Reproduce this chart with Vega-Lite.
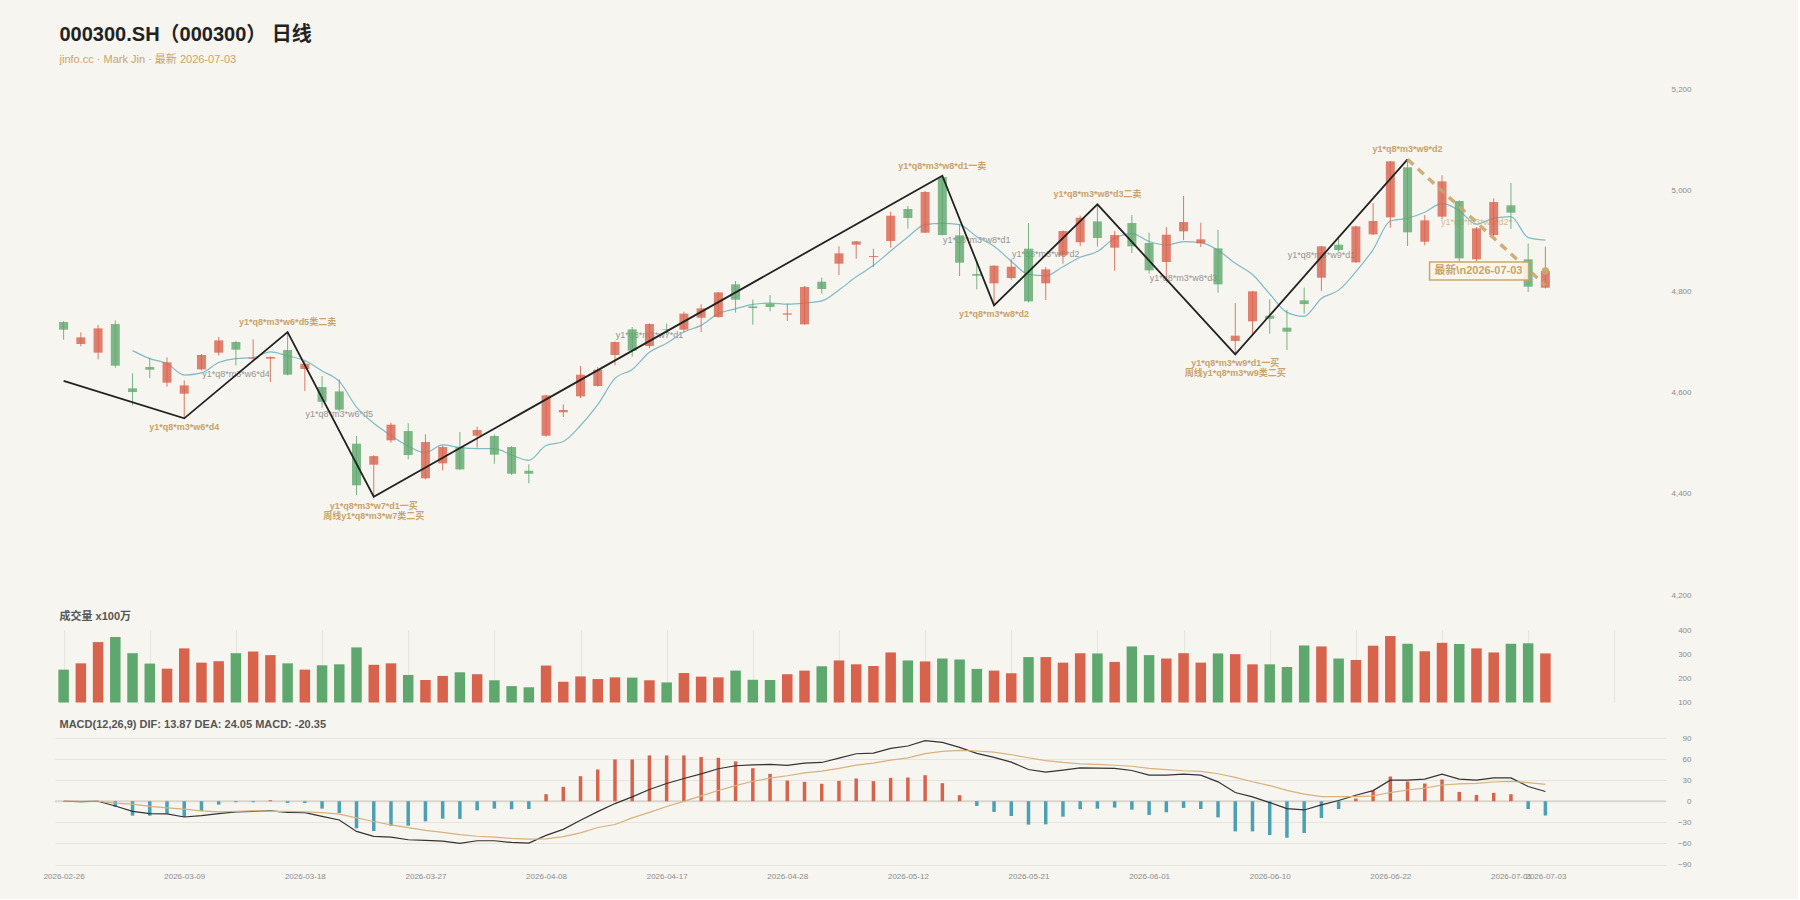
{
"$schema": "https://vega.github.io/schema/vega-lite/v6.json",
"background": "#f7f5f0",
"padding": {"left": 43, "top": 25, "right": 107, "bottom": 18},
"title": {"text": "000300.SH（000300） 日线", "subtitle": "jinfo.cc · Mark Jin · 最新 2026-07-03", "anchor": "start", "frame": "group", "dx": 4.5, "fontSize": 20, "fontWeight": "bold", "color": "#222222", "subtitleColor": "#c9a46a", "subtitleFontSize": 11, "subtitlePadding": 9, "offset": 20},
"datasets": {
"k": [
{"i":0,"d":"2026-02-26","o":4739.5,"h":4741.4,"l":4704.6,"c":4724.3,"v":236,"ma":null,"dif":0,"dea":0,"hist":0},
{"i":1,"d":"2026-02-27","o":4696.0,"h":4719.1,"l":4691.4,"c":4709.2,"v":262,"ma":null,"dif":-0.5,"dea":0,"hist":-1},
{"i":2,"d":"2026-03-02","o":4678.9,"h":4733.5,"l":4665.7,"c":4727.0,"v":350,"ma":null,"dif":0,"dea":0,"hist":0},
{"i":3,"d":"2026-03-03","o":4735.5,"h":4742.8,"l":4649.2,"c":4653.2,"v":371,"ma":null,"dif":-6.7,"dea":-2.7,"hist":-8},
{"i":4,"d":"2026-03-04","o":4608.4,"h":4638.0,"l":4574.8,"c":4601.1,"v":304,"ma":4683.0,"dif":-14.3,"dea":-4.1,"hist":-20.5},
{"i":5,"d":"2026-03-05","o":4650.5,"h":4669.0,"l":4628.8,"c":4645.3,"v":261,"ma":4667.2,"dif":-17.6,"dea":-7.4,"hist":-20.5},
{"i":6,"d":"2026-03-06","o":4619.6,"h":4669.6,"l":4611.7,"c":4659.8,"v":240,"ma":4657.3,"dif":-18.1,"dea":-9.3,"hist":-17.6},
{"i":7,"d":"2026-03-09","o":4597.8,"h":4624.2,"l":4549.1,"c":4614.3,"v":324,"ma":4634.7,"dif":-22.4,"dea":-11.2,"hist":-22.4},
{"i":8,"d":"2026-03-10","o":4645.9,"h":4676.2,"l":4643.9,"c":4674.3,"v":265,"ma":4639.0,"dif":-20.5,"dea":-13.6,"hist":-13.8},
{"i":9,"d":"2026-03-11","o":4678.9,"h":4709.8,"l":4673.6,"c":4703.2,"v":271,"ma":4659.4,"dif":-17.6,"dea":-15.2,"hist":-4.8},
{"i":10,"d":"2026-03-12","o":4700.0,"h":4702.0,"l":4653.8,"c":4684.8,"v":304,"ma":4667.3,"dif":-15.2,"dea":-14.5,"hist":-1.4},
{"i":11,"d":"2026-03-13","o":4667.0,"h":4705.2,"l":4662.4,"c":4669.0,"v":311,"ma":4669.1,"dif":-14.3,"dea":-13.6,"hist":-1.4},
{"i":12,"d":"2026-03-16","o":4667.0,"h":4671.6,"l":4620.9,"c":4670.3,"v":296,"ma":4680.3,"dif":-13.8,"dea":-14.5,"hist":1.4},
{"i":13,"d":"2026-03-17","o":4684.1,"h":4719.7,"l":4634.1,"c":4635.4,"v":262,"ma":4672.5,"dif":-15.7,"dea":-14.5,"hist":-2.4},
{"i":14,"d":"2026-03-18","o":4646.6,"h":4662.4,"l":4603.1,"c":4657.1,"v":236,"ma":4663.3,"dif":-16.2,"dea":-15.0,"hist":-2.4},
{"i":15,"d":"2026-03-19","o":4611.0,"h":4632.7,"l":4570.2,"c":4582.0,"v":254,"ma":4642.8,"dif":-21.4,"dea":-16.2,"hist":-10.5},
{"i":16,"d":"2026-03-20","o":4602.4,"h":4626.2,"l":4562.3,"c":4566.2,"v":258,"ma":4622.2,"dif":-26.7,"dea":-18.4,"hist":-16.7},
{"i":17,"d":"2026-03-23","o":4499.0,"h":4514.2,"l":4397.6,"c":4416.7,"v":328,"ma":4571.5,"dif":-42.9,"dea":-23.6,"hist":-38.6},
{"i":18,"d":"2026-03-24","o":4457.5,"h":4476.0,"l":4394.3,"c":4474.6,"v":256,"ma":4539.3,"dif":-50.0,"dea":-28.8,"hist":-42.4},
{"i":19,"d":"2026-03-25","o":4505.6,"h":4540.5,"l":4501.0,"c":4536.6,"v":262,"ma":4515.2,"dif":-51.0,"dea":-33.6,"hist":-34.8},
{"i":20,"d":"2026-03-26","o":4524.0,"h":4539.2,"l":4468.1,"c":4476.6,"v":214,"ma":4494.1,"dif":-54.8,"dea":-37.4,"hist":-34.8},
{"i":21,"d":"2026-03-27","o":4430.5,"h":4517.5,"l":4428.5,"c":4502.3,"v":193,"ma":4481.4,"dif":-55.7,"dea":-41.4,"hist":-28.6},
{"i":22,"d":"2026-03-30","o":4460.1,"h":4495.7,"l":4446.3,"c":4492.4,"v":210,"ma":4496.5,"dif":-56.7,"dea":-44.3,"hist":-24.8},
{"i":23,"d":"2026-03-31","o":4492.4,"h":4522.1,"l":4447.0,"c":4448.3,"v":225,"ma":4491.2,"dif":-60.0,"dea":-47.4,"hist":-25.2},
{"i":24,"d":"2026-04-01","o":4514.8,"h":4532.6,"l":4491.1,"c":4526.0,"v":217,"ma":4489.1,"dif":-56.2,"dea":-49.8,"hist":-12.9},
{"i":25,"d":"2026-04-02","o":4514.2,"h":4517.5,"l":4459.5,"c":4477.3,"v":192,"ma":4489.3,"dif":-56.2,"dea":-51.0,"hist":-10.5},
{"i":26,"d":"2026-04-03","o":4492.4,"h":4494.4,"l":4437.1,"c":4439.7,"v":168,"ma":4476.7,"dif":-58.6,"dea":-52.9,"hist":-11.4},
{"i":27,"d":"2026-04-07","o":4445.6,"h":4458.2,"l":4420.6,"c":4439.7,"v":163,"ma":4466.2,"dif":-59.5,"dea":-54.0,"hist":-11.0},
{"i":28,"d":"2026-04-08","o":4514.8,"h":4596.0,"l":4512.8,"c":4594.5,"v":253,"ma":4495.4,"dif":-48.6,"dea":-53.6,"hist":10.0},
{"i":29,"d":"2026-04-09","o":4561.0,"h":4576.7,"l":4551.7,"c":4565.5,"v":186,"ma":4503.3,"dif":-40.0,"dea":-50.3,"hist":20.5},
{"i":30,"d":"2026-04-10","o":4592.6,"h":4652.5,"l":4589.3,"c":4635.4,"v":208,"ma":4535.0,"dif":-27.1,"dea":-45.0,"hist":35.7},
{"i":31,"d":"2026-04-13","o":4613.0,"h":4650.5,"l":4611.7,"c":4645.3,"v":197,"ma":4576.1,"dif":-14.8,"dea":-37.4,"hist":45.2},
{"i":32,"d":"2026-04-14","o":4674.3,"h":4701.0,"l":4653.8,"c":4700.0,"v":204,"ma":4628.1,"dif":-3.3,"dea":-33.1,"hist":59.5},
{"i":33,"d":"2026-04-15","o":4725.0,"h":4729.6,"l":4671.0,"c":4682.8,"v":203,"ma":4645.8,"dif":6.2,"dea":-23.6,"hist":59.5},
{"i":34,"d":"2026-04-16","o":4692.0,"h":4736.8,"l":4687.4,"c":4735.5,"v":192,"ma":4679.8,"dif":16.7,"dea":-15.9,"hist":65.2},
{"i":35,"d":"2026-04-17","o":4725.0,"h":4736.2,"l":4713.8,"c":4723.7,"v":183,"ma":4697.5,"dif":25.2,"dea":-7.4,"hist":65.2},
{"i":36,"d":"2026-04-20","o":4724.3,"h":4759.9,"l":4719.7,"c":4756.0,"v":222,"ma":4719.6,"dif":32.4,"dea":-0.2,"hist":65.2},
{"i":37,"d":"2026-04-21","o":4748.0,"h":4774.4,"l":4719.7,"c":4766.5,"v":207,"ma":4732.9,"dif":39.0,"dea":7.6,"hist":62.9},
{"i":38,"d":"2026-04-22","o":4749.4,"h":4798.8,"l":4748.0,"c":4798.1,"v":204,"ma":4756.0,"dif":46.2,"dea":15.3,"hist":61.9},
{"i":39,"d":"2026-04-23","o":4813.9,"h":4820.5,"l":4757.9,"c":4783.6,"v":232,"ma":4765.6,"dif":50.5,"dea":22.2,"hist":56.7},
{"i":40,"d":"2026-04-24","o":4770.4,"h":4783.6,"l":4734.2,"c":4767.1,"v":194,"ma":4774.3,"dif":51.9,"dea":28.4,"hist":47.1},
{"i":41,"d":"2026-04-27","o":4775.7,"h":4792.8,"l":4760.6,"c":4769.1,"v":193,"ma":4776.9,"dif":52.4,"dea":32.9,"hist":39.0},
{"i":42,"d":"2026-04-28","o":4754.0,"h":4775.7,"l":4741.5,"c":4756.6,"v":217,"ma":4774.9,"dif":51.0,"dea":36.3,"hist":29.5},
{"i":43,"d":"2026-04-29","o":4734.9,"h":4810.6,"l":4734.2,"c":4808.7,"v":232,"ma":4777.0,"dif":54.3,"dea":40.5,"hist":27.6},
{"i":44,"d":"2026-04-30","o":4819.2,"h":4827.1,"l":4795.5,"c":4804.7,"v":250,"ma":4781.2,"dif":55.2,"dea":42.8,"hist":24.8},
{"i":45,"d":"2026-05-06","o":4854.8,"h":4889.0,"l":4832.4,"c":4875.2,"v":274,"ma":4802.9,"dif":61.4,"dea":46.9,"hist":29.0},
{"i":46,"d":"2026-05-07","o":4892.3,"h":4899.6,"l":4864.6,"c":4898.9,"v":258,"ma":4828.8,"dif":67.6,"dea":51.4,"hist":32.4},
{"i":47,"d":"2026-05-08","o":4867.9,"h":4884.4,"l":4848.2,"c":4869.9,"v":251,"ma":4851.5,"dif":68.6,"dea":54.3,"hist":28.6},
{"i":48,"d":"2026-05-11","o":4899.6,"h":4957.5,"l":4886.4,"c":4949.6,"v":307,"ma":4879.7,"dif":75.2,"dea":58.6,"hist":33.3},
{"i":49,"d":"2026-05-12","o":4962.8,"h":4968.7,"l":4923.9,"c":4945.0,"v":274,"ma":4907.7,"dif":78.6,"dea":61.7,"hist":33.8},
{"i":50,"d":"2026-05-13","o":4916.0,"h":4998.4,"l":4915.4,"c":4996.4,"v":270,"ma":4932.0,"dif":86.2,"dea":67.7,"hist":37.1},
{"i":51,"d":"2026-05-14","o":5026.0,"h":5028.7,"l":4910.8,"c":4911.4,"v":282,"ma":4934.5,"dif":83.8,"dea":71.0,"hist":25.7},
{"i":52,"d":"2026-05-15","o":4910.8,"h":4932.5,"l":4830.4,"c":4856.7,"v":278,"ma":4931.8,"dif":76.7,"dea":72.4,"hist":8.6},
{"i":53,"d":"2026-05-18","o":4834.3,"h":4860.0,"l":4804.0,"c":4831.0,"v":239,"ma":4908.1,"dif":68.1,"dea":71.5,"hist":-6.7},
{"i":54,"d":"2026-05-19","o":4815.9,"h":4852.1,"l":4772.4,"c":4850.8,"v":232,"ma":4889.3,"dif":62.4,"dea":70.0,"hist":-15.2},
{"i":55,"d":"2026-05-20","o":4826.4,"h":4863.3,"l":4823.1,"c":4848.8,"v":221,"ma":4859.7,"dif":55.7,"dea":66.2,"hist":-21.0},
{"i":56,"d":"2026-05-21","o":4884.4,"h":4935.1,"l":4778.3,"c":4780.3,"v":288,"ma":4833.5,"dif":45.2,"dea":61.9,"hist":-33.3},
{"i":57,"d":"2026-05-22","o":4815.9,"h":4848.2,"l":4783.0,"c":4843.6,"v":288,"ma":4830.9,"dif":41.4,"dea":57.9,"hist":-32.9},
{"i":58,"d":"2026-05-25","o":4871.2,"h":4920.6,"l":4854.8,"c":4919.3,"v":265,"ma":4848.6,"dif":44.3,"dea":55.3,"hist":-21.9},
{"i":59,"d":"2026-05-26","o":4896.9,"h":4949.6,"l":4889.7,"c":4945.7,"v":304,"ma":4867.5,"dif":47.6,"dea":53.3,"hist":-11.4},
{"i":60,"d":"2026-05-27","o":4938.4,"h":4972.0,"l":4888.4,"c":4905.5,"v":303,"ma":4878.9,"dif":47.1,"dea":52.4,"hist":-10.5},
{"i":61,"d":"2026-05-28","o":4886.4,"h":4919.3,"l":4840.9,"c":4911.4,"v":268,"ma":4905.1,"dif":46.7,"dea":51.2,"hist":-9.0},
{"i":62,"d":"2026-05-29","o":4935.1,"h":4950.9,"l":4875.8,"c":4889.0,"v":332,"ma":4914.2,"dif":43.8,"dea":49.8,"hist":-11.9},
{"i":63,"d":"2026-06-01","o":4895.6,"h":4916.0,"l":4835.0,"c":4841.6,"v":296,"ma":4898.6,"dif":37.1,"dea":46.9,"hist":-19.5},
{"i":64,"d":"2026-06-02","o":4858.1,"h":4927.2,"l":4827.1,"c":4912.1,"v":282,"ma":4891.9,"dif":37.1,"dea":45.0,"hist":-15.7},
{"i":65,"d":"2026-06-03","o":4918.7,"h":4988.5,"l":4901.5,"c":4937.1,"v":304,"ma":4898.2,"dif":38.6,"dea":43.4,"hist":-9.5},
{"i":66,"d":"2026-06-04","o":4895.0,"h":4935.8,"l":4887.7,"c":4902.9,"v":265,"ma":4896.5,"dif":37.1,"dea":42.6,"hist":-11.0},
{"i":67,"d":"2026-06-05","o":4885.1,"h":4921.3,"l":4797.5,"c":4813.9,"v":303,"ma":4881.5,"dif":27.6,"dea":39.1,"hist":-22.9},
{"i":68,"d":"2026-06-08","o":4701.9,"h":4777.0,"l":4675.6,"c":4712.5,"v":300,"ma":4855.7,"dif":12.4,"dea":33.9,"hist":-42.9},
{"i":69,"d":"2026-06-09","o":4740.8,"h":4801.0,"l":4711.8,"c":4800.1,"v":258,"ma":4833.3,"dif":6.2,"dea":27.7,"hist":-42.9},
{"i":70,"d":"2026-06-10","o":4752.0,"h":4784.3,"l":4716.4,"c":4746.1,"v":258,"ma":4795.1,"dif":-1.9,"dea":22.2,"hist":-48.1},
{"i":71,"d":"2026-06-11","o":4728.3,"h":4763.8,"l":4684.1,"c":4720.4,"v":247,"ma":4758.6,"dif":-10.5,"dea":15.5,"hist":-51.9},
{"i":72,"d":"2026-06-12","o":4782.3,"h":4807.3,"l":4755.9,"c":4775.0,"v":336,"ma":4750.8,"dif":-12.4,"dea":10.2,"hist":-45.2},
{"i":73,"d":"2026-06-15","o":4827.1,"h":4890.0,"l":4800.7,"c":4889.0,"v":332,"ma":4786.1,"dif":-5.2,"dea":6.7,"hist":-23.8},
{"i":74,"d":"2026-06-16","o":4892.3,"h":4904.8,"l":4878.5,"c":4881.8,"v":282,"ma":4802.5,"dif":1.0,"dea":6.5,"hist":-11.0},
{"i":75,"d":"2026-06-17","o":4857.4,"h":4929.9,"l":4856.7,"c":4928.5,"v":276,"ma":4838.9,"dif":8.6,"dea":6.7,"hist":3.8},
{"i":76,"d":"2026-06-18","o":4912.7,"h":4974.7,"l":4911.4,"c":4939.1,"v":335,"ma":4882.7,"dif":15.2,"dea":7.6,"hist":15.2},
{"i":77,"d":"2026-06-22","o":4946.3,"h":5057.7,"l":4925.9,"c":5057.0,"v":375,"ma":4939.1,"dif":30.0,"dea":12.4,"hist":35.2},
{"i":78,"d":"2026-06-23","o":5045.2,"h":5061.0,"l":4889.7,"c":4916.7,"v":343,"ma":4944.6,"dif":30.0,"dea":16.0,"hist":28.1},
{"i":79,"d":"2026-06-24","o":4898.2,"h":4950.9,"l":4891.0,"c":4940.4,"v":312,"ma":4956.3,"dif":31.4,"dea":18.8,"hist":25.2},
{"i":80,"d":"2026-06-25","o":4947.7,"h":5029.3,"l":4942.4,"c":5017.5,"v":347,"ma":4974.1,"dif":38.6,"dea":23.1,"hist":31.0},
{"i":81,"d":"2026-06-26","o":4978.6,"h":4979.9,"l":4858.7,"c":4865.3,"v":342,"ma":4959.4,"dif":31.4,"dea":24.8,"hist":13.3},
{"i":82,"d":"2026-06-29","o":4863.3,"h":4927.2,"l":4860.0,"c":4924.6,"v":324,"ma":4932.9,"dif":30.0,"dea":25.5,"hist":9.0},
{"i":83,"d":"2026-06-30","o":4911.4,"h":4983.9,"l":4909.4,"c":4976.6,"v":307,"ma":4944.9,"dif":33.3,"dea":27.4,"hist":11.9},
{"i":84,"d":"2026-07-01","o":4970.1,"h":5014.2,"l":4923.3,"c":4955.6,"v":343,"ma":4947.9,"dif":33.3,"dea":28.3,"hist":10.0},
{"i":85,"d":"2026-07-02","o":4863.3,"h":4894.3,"l":4798.8,"c":4809.3,"v":345,"ma":4906.3,"dif":21.0,"dea":26.5,"hist":-11.0},
{"i":86,"d":"2026-07-03","o":4807.3,"h":4888.4,"l":4806.0,"c":4840.3,"v":303,"ma":4901.3,"dif":13.87,"dea":24.05,"hist":-20.35}
],
"zig": [{"i":0,"p":4623},{"i":7,"p":4549.1},{"i":13,"p":4719.7},{"i":18,"p":4394.3},{"i":51,"p":5028.7},{"i":54,"p":4772.4},{"i":60,"p":4972.0},{"i":68,"p":4675.6},{"i":78,"p":5061.0}],
"dash": [{"i":78,"p":5061.0},{"i":86,"p":4812}],
"piv": [
{"i":7,"p":4549.1,"t":"y1*q8*m3*w6*d4","pos":"below"},
{"i":13,"p":4719.7,"t":"y1*q8*m3*w6*d5类二卖","pos":"above"},
{"i":18,"p":4394.3,"t":"y1*q8*m3*w7*d1一买\n周线y1*q8*m3*w7类二买","pos":"below"},
{"i":51,"p":5028.7,"t":"y1*q8*m3*w8*d1一卖","pos":"above"},
{"i":54,"p":4772.4,"t":"y1*q8*m3*w8*d2","pos":"below"},
{"i":60,"p":4972.0,"t":"y1*q8*m3*w8*d3二卖","pos":"above"},
{"i":68,"p":4675.6,"t":"y1*q8*m3*w9*d1一买\n周线y1*q8*m3*w9类二买","pos":"below"},
{"i":78,"p":5061.0,"t":"y1*q8*m3*w9*d2","pos":"above"}
],
"sub": [
{"i":10,"p":4636,"t":"y1*q8*m3*w6*d4","kind":"sub"},
{"i":16,"p":4558,"t":"y1*q8*m3*w6*d5","kind":"sub"},
{"i":34,"p":4714,"t":"y1*q8*m3*w7*d1","kind":"sub"},
{"i":53,"p":4902,"t":"y1*q8*m3*w8*d1","kind":"sub"},
{"i":57,"p":4874,"t":"y1*q8*m3*w8*d2","kind":"sub"},
{"i":65,"p":4826.5,"t":"y1*q8*m3*w8*d3","kind":"sub"},
{"i":73,"p":4871,"t":"y1*q8*m3*w9*d1","kind":"sub"},
{"i":82,"p":4937,"t":"y1*q8*m3*w9*d2*","kind":"pending"}
],
"last": [{"i":86,"p":4840.3,"t":"最新\\n2026-07-03"}]
},
"spacing": 35,
"bounds": "flush",
"resolve": {"scale": {"x": "independent", "y": "independent"}},
"vconcat": [
{
"width": 1611, "height": 506,
"layer": [
{"data": {"name": "sub"}, "mark": {"type": "text", "fontSize": 9, "baseline": "middle", "align": "center"},
 "encoding": {"x": {"field": "i", "type": "quantitative", "scale": {"domain": [-0.5, 93], "nice": false, "zero": false, "padding": 0}, "axis": null},
  "y": {"field": "p", "type": "quantitative", "scale": {"domain": [4200, 5200], "nice": false, "zero": false}, "axis": {"orient": "right", "values": [4200,4400,4600,4800,5000,5200], "labelExpr": "format(datum.value, ',')", "labelAlign": "right", "labelPadding": 25, "title": null, "grid": false}},
  "text": {"field": "t"},
  "color": {"condition": {"test": "datum.kind == 'pending'", "value": "#c9a36a"}, "value": "#8a8a8a"},
  "opacity": {"condition": {"test": "datum.kind == 'pending'", "value": 0.7}, "value": 0.9}}},
{"data": {"name": "k"}, "mark": {"type": "line", "color": "#7fbac8", "strokeWidth": 1.2, "interpolate": "monotone"},
 "encoding": {"x": {"field": "i", "type": "quantitative", "scale": {"domain": [-0.5, 93], "nice": false, "zero": false, "padding": 0}, "axis": null},
  "y": {"field": "ma", "type": "quantitative", "scale": {"domain": [4200, 5200], "nice": false, "zero": false}, "axis": {"orient": "right", "values": [4200,4400,4600,4800,5000,5200], "labelExpr": "format(datum.value, ',')", "labelAlign": "right", "labelPadding": 25, "title": null, "grid": false}}}},
{"data": {"name": "k"}, "mark": {"type": "rule", "strokeWidth": 1, "opacity": 0.85},
 "encoding": {"x": {"field": "i", "type": "quantitative", "scale": {"domain": [-0.5, 93], "nice": false, "zero": false, "padding": 0}, "axis": null},
  "y": {"field": "l", "type": "quantitative", "scale": {"domain": [4200, 5200], "nice": false, "zero": false}, "axis": {"orient": "right", "values": [4200,4400,4600,4800,5000,5200], "labelExpr": "format(datum.value, ',')", "labelAlign": "right", "labelPadding": 25, "title": null, "grid": false}},
  "y2": {"field": "h"},
  "color": {"condition": {"test": "datum.c >= datum.o", "value": "#d8634d"}, "value": "#5fa86d"}}},
{"data": {"name": "k"}, "mark": {"type": "bar", "width": 9, "opacity": 0.8},
 "encoding": {"x": {"field": "i", "type": "quantitative", "scale": {"domain": [-0.5, 93], "nice": false, "zero": false, "padding": 0}, "axis": null},
  "y": {"field": "o", "type": "quantitative", "scale": {"domain": [4200, 5200], "nice": false, "zero": false}, "axis": {"orient": "right", "values": [4200,4400,4600,4800,5000,5200], "labelExpr": "format(datum.value, ',')", "labelAlign": "right", "labelPadding": 25, "title": null, "grid": false}},
  "y2": {"field": "c"},
  "color": {"condition": {"test": "datum.c >= datum.o", "value": "#d8634d"}, "value": "#5fa86d"}}},
{"data": {"name": "zig"}, "mark": {"type": "line", "color": "#222222", "strokeWidth": 1.8},
 "encoding": {"x": {"field": "i", "type": "quantitative", "scale": {"domain": [-0.5, 93], "nice": false, "zero": false, "padding": 0}, "axis": null},
  "y": {"field": "p", "type": "quantitative", "scale": {"domain": [4200, 5200], "nice": false, "zero": false}, "axis": {"orient": "right", "values": [4200,4400,4600,4800,5000,5200], "labelExpr": "format(datum.value, ',')", "labelAlign": "right", "labelPadding": 25, "title": null, "grid": false}}}},
{"data": {"name": "dash"}, "mark": {"type": "line", "color": "#c9a66b", "strokeWidth": 3.5, "strokeDash": [8, 6], "opacity": 0.9},
 "encoding": {"x": {"field": "i", "type": "quantitative", "scale": {"domain": [-0.5, 93], "nice": false, "zero": false, "padding": 0}, "axis": null},
  "y": {"field": "p", "type": "quantitative", "scale": {"domain": [4200, 5200], "nice": false, "zero": false}, "axis": {"orient": "right", "values": [4200,4400,4600,4800,5000,5200], "labelExpr": "format(datum.value, ',')", "labelAlign": "right", "labelPadding": 25, "title": null, "grid": false}}}},
{"data": {"name": "piv"}, "transform": [{"filter": "datum.pos == 'above'"}], "mark": {"type": "text", "fontSize": 9, "fontWeight": "bold", "color": "#c9a36a", "baseline": "bottom", "dy": -5, "lineBreak": "\n"},
 "encoding": {"x": {"field": "i", "type": "quantitative", "scale": {"domain": [-0.5, 93], "nice": false, "zero": false, "padding": 0}, "axis": null},
  "y": {"field": "p", "type": "quantitative", "scale": {"domain": [4200, 5200], "nice": false, "zero": false}, "axis": {"orient": "right", "values": [4200,4400,4600,4800,5000,5200], "labelExpr": "format(datum.value, ',')", "labelAlign": "right", "labelPadding": 25, "title": null, "grid": false}},
  "text": {"field": "t"}}},
{"data": {"name": "piv"}, "transform": [{"filter": "datum.pos == 'below'"}], "mark": {"type": "text", "fontSize": 9, "fontWeight": "bold", "color": "#c9a36a", "baseline": "top", "dy": 5, "lineHeight": 10, "lineBreak": "\n"},
 "encoding": {"x": {"field": "i", "type": "quantitative", "scale": {"domain": [-0.5, 93], "nice": false, "zero": false, "padding": 0}, "axis": null},
  "y": {"field": "p", "type": "quantitative", "scale": {"domain": [4200, 5200], "nice": false, "zero": false}, "axis": {"orient": "right", "values": [4200,4400,4600,4800,5000,5200], "labelExpr": "format(datum.value, ',')", "labelAlign": "right", "labelPadding": 25, "title": null, "grid": false}},
  "text": {"field": "t"}}},
{"data": {"name": "last"}, "mark": {"type": "point", "shape": "M-5.79,-0.45H-0.84V0.45H-5.79Z", "size": 1600, "filled": true, "fill": "#faf6ec", "fillOpacity": 0.9, "stroke": "#c9a66b", "strokeWidth": 1.5, "opacity": 1},
 "encoding": {"x": {"field": "i", "type": "quantitative", "scale": {"domain": [-0.5, 93], "nice": false, "zero": false, "padding": 0}, "axis": null},
  "y": {"field": "p", "type": "quantitative", "scale": {"domain": [4200, 5200], "nice": false, "zero": false}, "axis": {"orient": "right", "values": [4200,4400,4600,4800,5000,5200], "labelExpr": "format(datum.value, ',')", "labelAlign": "right", "labelPadding": 25, "title": null, "grid": false}}}},
{"data": {"name": "last"}, "mark": {"type": "text", "fontSize": 11, "fontWeight": "bold", "color": "#c9a36a", "baseline": "middle", "align": "center", "dx": -67},
 "encoding": {"x": {"field": "i", "type": "quantitative", "scale": {"domain": [-0.5, 93], "nice": false, "zero": false, "padding": 0}, "axis": null},
  "y": {"field": "p", "type": "quantitative", "scale": {"domain": [4200, 5200], "nice": false, "zero": false}, "axis": {"orient": "right", "values": [4200,4400,4600,4800,5000,5200], "labelExpr": "format(datum.value, ',')", "labelAlign": "right", "labelPadding": 25, "title": null, "grid": false}},
  "text": {"field": "t"}}},
{"data": {"name": "last"}, "mark": {"type": "point", "shape": "circle", "size": 55, "filled": true, "color": "#c9a66b", "opacity": 0.95},
 "encoding": {"x": {"field": "i", "type": "quantitative", "scale": {"domain": [-0.5, 93], "nice": false, "zero": false, "padding": 0}, "axis": null},
  "y": {"field": "p", "type": "quantitative", "scale": {"domain": [4200, 5200], "nice": false, "zero": false}, "axis": {"orient": "right", "values": [4200,4400,4600,4800,5000,5200], "labelExpr": "format(datum.value, ',')", "labelAlign": "right", "labelPadding": 25, "title": null, "grid": false}}}}
]
},
{
"width": 1611, "height": 72.5,
"title": {"text": "成交量 x100万", "anchor": "start", "frame": "group", "dx": 4.5, "fontSize": 11, "fontWeight": "bold", "color": "#555555", "offset": 4},
"data": {"name": "k"},
"mark": {"type": "bar", "width": 10.5},
"encoding": {
 "x": {"field": "i", "type": "quantitative", "scale": {"domain": [-0.5, 93], "nice": false, "zero": false, "padding": 0}, "axis": {"grid": true, "labels": false, "values": [0,5,10,15,20,25,30,35,40,45,50,55,60,65,70,75,80,85,90], "title": null}},
 "y": {"field": "v", "type": "quantitative", "scale": {"domain": [100, 400], "nice": false, "zero": false}, "axis": {"orient": "right", "values": [100,200,300,400], "labelAlign": "right", "labelPadding": 25, "title": null, "grid": false}},
 "y2": {"datum": 100},
 "color": {"condition": {"test": "datum.c >= datum.o", "value": "#d8634d"}, "value": "#5fa86d"}
}
},
{
"width": 1611, "height": 126.5,
"title": {"text": "MACD(12,26,9) DIF: 13.87 DEA: 24.05 MACD: -20.35", "anchor": "start", "frame": "group", "dx": 4.5, "fontSize": 11, "fontWeight": "bold", "color": "#555555", "offset": 4},
"layer": [
{"data": {"values": [{"z": 0}]}, "mark": {"type": "rule", "color": "#d9d6cf", "strokeWidth": 2},
 "encoding": {"y": {"field": "z", "type": "quantitative", "scale": {"domain": [-90, 90], "nice": false, "zero": false}, "axis": {"orient": "right", "values": [-90,-60,-30,0,30,60,90], "labelAlign": "right", "labelPadding": 25, "title": null, "grid": true}}}},
{"data": {"name": "k"}, "mark": {"type": "bar", "width": 3.5},
 "encoding": {"x": {"field": "i", "type": "quantitative", "scale": {"domain": [-0.5, 93], "nice": false, "zero": false, "padding": 0}, "axis": {"orient": "bottom", "grid": false, "values": [0,7,14,21,28,35,42,49,56,63,70,77,84,86], "labelExpr": "datum.value == 86 ? '2026-07-03' : ['2026-02-26','2026-03-09','2026-03-18','2026-03-27','2026-04-08','2026-04-17','2026-04-28','2026-05-12','2026-05-21','2026-06-01','2026-06-10','2026-06-22','2026-07-01'][datum.value / 7]", "labelOverlap": false, "labelPadding": 8, "title": null}},
  "y": {"field": "hist", "type": "quantitative", "scale": {"domain": [-90, 90], "nice": false, "zero": false}, "axis": {"orient": "right", "values": [-90,-60,-30,0,30,60,90], "labelAlign": "right", "labelPadding": 25, "title": null, "grid": true}},
  "color": {"condition": {"test": "datum.hist >= 0", "value": "#d8634d"}, "value": "#4aa0b4"}}},
{"data": {"name": "k"}, "mark": {"type": "line", "color": "#333333", "strokeWidth": 1.2},
 "encoding": {"x": {"field": "i", "type": "quantitative", "scale": {"domain": [-0.5, 93], "nice": false, "zero": false, "padding": 0}, "axis": {"orient": "bottom", "grid": false, "values": [0,7,14,21,28,35,42,49,56,63,70,77,84,86], "labelExpr": "datum.value == 86 ? '2026-07-03' : ['2026-02-26','2026-03-09','2026-03-18','2026-03-27','2026-04-08','2026-04-17','2026-04-28','2026-05-12','2026-05-21','2026-06-01','2026-06-10','2026-06-22','2026-07-01'][datum.value / 7]", "labelOverlap": false, "labelPadding": 8, "title": null}},
  "y": {"field": "dif", "type": "quantitative", "scale": {"domain": [-90, 90], "nice": false, "zero": false}, "axis": {"orient": "right", "values": [-90,-60,-30,0,30,60,90], "labelAlign": "right", "labelPadding": 25, "title": null, "grid": true}}}},
{"data": {"name": "k"}, "mark": {"type": "line", "color": "#d6b27c", "strokeWidth": 1.2},
 "encoding": {"x": {"field": "i", "type": "quantitative", "scale": {"domain": [-0.5, 93], "nice": false, "zero": false, "padding": 0}, "axis": {"orient": "bottom", "grid": false, "values": [0,7,14,21,28,35,42,49,56,63,70,77,84,86], "labelExpr": "datum.value == 86 ? '2026-07-03' : ['2026-02-26','2026-03-09','2026-03-18','2026-03-27','2026-04-08','2026-04-17','2026-04-28','2026-05-12','2026-05-21','2026-06-01','2026-06-10','2026-06-22','2026-07-01'][datum.value / 7]", "labelOverlap": false, "labelPadding": 8, "title": null}},
  "y": {"field": "dea", "type": "quantitative", "scale": {"domain": [-90, 90], "nice": false, "zero": false}, "axis": {"orient": "right", "values": [-90,-60,-30,0,30,60,90], "labelAlign": "right", "labelPadding": 25, "title": null, "grid": true}}}}
]
}
],
"config": {
 "font": "Liberation Sans, Noto Sans CJK SC, sans-serif",
 "view": {"stroke": null},
 "axis": {"labelColor": "#8c8c8c", "labelFontSize": 8, "domain": false, "ticks": false, "tickSize": 0, "gridColor": "#e7e4dd", "gridWidth": 1},
 "title": {"font": "Liberation Sans, Noto Sans CJK SC, sans-serif", "subtitleFont": "Liberation Sans, Noto Sans CJK SC, sans-serif"}
}
}
